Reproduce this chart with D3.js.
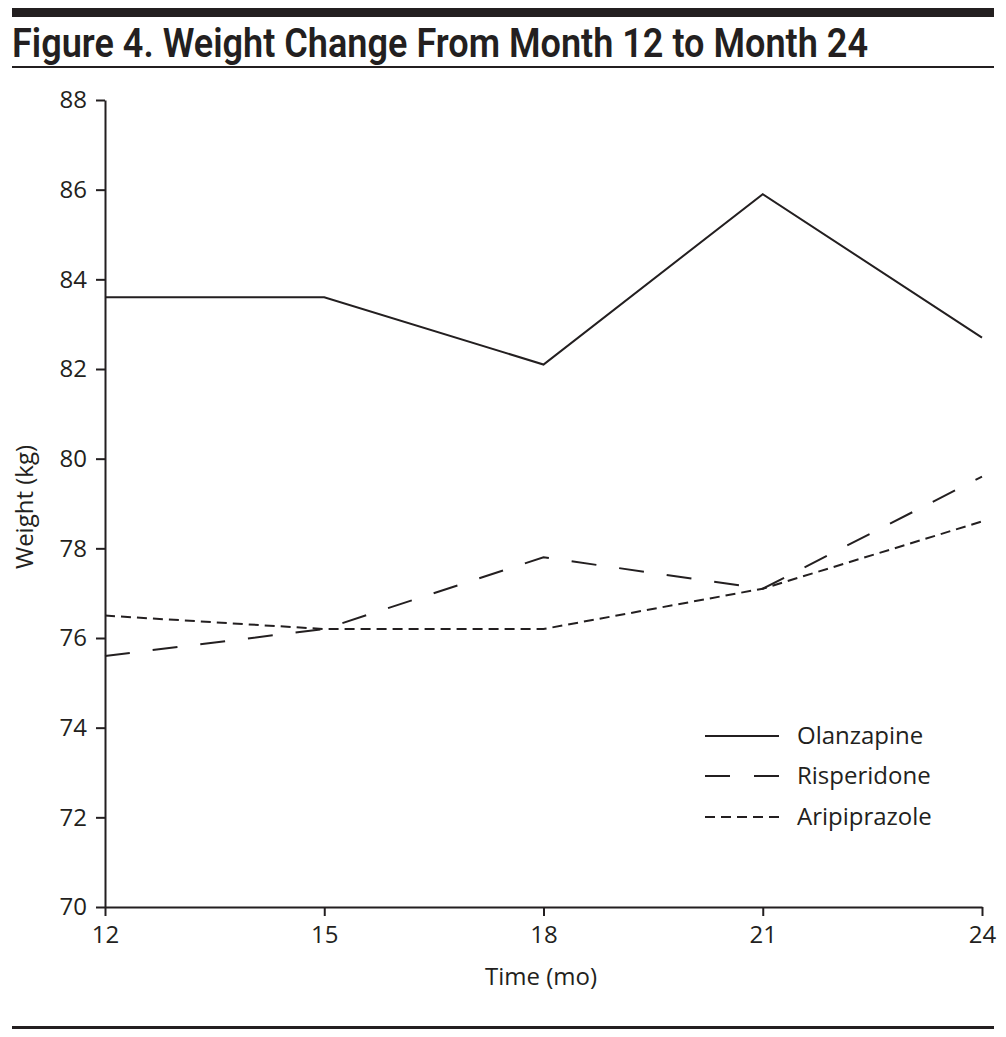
<!DOCTYPE html>
<html><head><meta charset="utf-8">
<script src="https://cdn.jsdelivr.net/npm/d3@7"></script>
<style>body{margin:0;background:#fff}</style>
</head><body>
<svg id="c" width="1006" height="1037"></svg>
<script>
const months = [12, 15, 18, 21, 24];
const olanzapine = [83.6, 83.6, 82.1, 85.9, 82.7];
const risperidone = [75.6, 76.2, 77.8, 77.1, 79.6];
const aripiprazole = [76.5, 76.2, 76.2, 77.1, 78.6];
const yTicks = [70, 72, 74, 76, 78, 80, 82, 84, 86, 88];
const seriesNames = ["Olanzapine", "Risperidone", "Aripiprazole"];
const titleText = "Figure 4. Weight Change From Month 12 to Month 24";

const ink = "#231f20";
const font = "'Open Sans','Noto Sans',sans-serif";
const svg = d3.select("#c");

// header rules
svg.append("rect").attr("x",12).attr("y",8).attr("width",982).attr("height",9).attr("fill",ink);
svg.append("rect").attr("x",12).attr("y",66).attr("width",982).attr("height",2).attr("fill",ink);
svg.append("rect").attr("x",12).attr("y",1026).attr("width",982).attr("height",3).attr("fill",ink);

const t = svg.append("text").attr("x",12).attr("y",57)
  .attr("font-family","'Liberation Sans Narrow','Roboto',sans-serif")
  .attr("font-weight","600").attr("font-size",40).attr("fill",ink).text(titleText);
t.attr("textLength",856).attr("lengthAdjust","spacingAndGlyphs");

const x = d3.scaleLinear().domain([12,24]).range([105,982]);
const y = d3.scaleLinear().domain([70,88]).range([907,100]);

const yAxis = svg.append("g").attr("transform","translate(105,0)")
  .call(d3.axisLeft(y).tickValues(yTicks).tickSize(9).tickPadding(9).tickSizeOuter(0));
const xAxis = svg.append("g").attr("transform","translate(0,907)")
  .call(d3.axisBottom(x).tickValues(months).tickSize(9).tickPadding(5).tickSizeOuter(0));
[yAxis, xAxis].forEach(g => {
  g.selectAll("path").attr("stroke",ink).attr("stroke-width",2);
  g.selectAll("line").attr("stroke",ink).attr("stroke-width",2);
  g.selectAll("text").attr("fill",ink).attr("font-family",font).attr("font-size",24);
});
xAxis.selectAll("text").attr("dy","0.9em");

svg.append("text").attr("x",541).attr("y",985).attr("text-anchor","middle")
  .attr("font-family",font).attr("font-size",24).attr("fill",ink).text("Time (mo)");
svg.append("text").attr("transform","translate(33,507) rotate(-90)").attr("text-anchor","middle")
  .attr("font-family",font).attr("font-size",24).attr("fill",ink).text("Weight (kg)");

const dashes = [null, "25,23", "10,6"];
const data = [olanzapine, risperidone, aripiprazole];
const line = d3.line().x((d,i)=>x(months[i])).y(d=>y(d));
data.forEach((s,k) => {
  const p = svg.append("path").attr("d",line(s)).attr("fill","none")
    .attr("stroke",ink).attr("stroke-width",2);
  if (dashes[k]) p.attr("stroke-dasharray",dashes[k]);
});

// legend
const legY = [736, 776, 817];
seriesNames.forEach((n,k) => {
  const l = svg.append("line").attr("x1",705).attr("x2",779).attr("y1",legY[k]).attr("y2",legY[k])
    .attr("stroke",ink).attr("stroke-width",2);
  if (dashes[k]) l.attr("stroke-dasharray", k===1 ? "25,24" : "10,6");
  svg.append("text").attr("x",797).attr("y",legY[k]).attr("dy","0.35em")
    .attr("font-family",font).attr("font-size",24).attr("fill",ink).text(n);
});
</script>
</body></html>
